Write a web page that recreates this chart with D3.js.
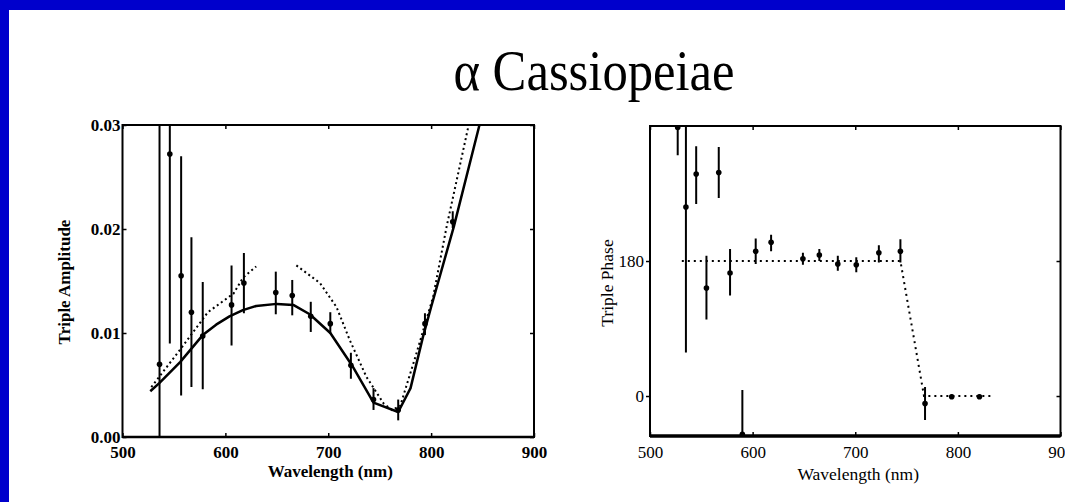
<!DOCTYPE html>
<html><head><meta charset="utf-8">
<script src="https://cdn.jsdelivr.net/npm/d3@7"></script>
<style>body{margin:0;background:#fff}svg{display:block}</style>
</head><body>
<svg id="c" width="1065" height="502"></svg>
<script>
// ---------- data ----------
const titleText = "α Cassiopeiae";
const xTicks = [500, 600, 700, 800, 900];
const ampTicks = [0, 0.01, 0.02, 0.03];
const ampTickLabels = ["0.00", "0.01", "0.02", "0.03"];
const phaseTicks = [0, 180];

// Left panel: triple amplitude measurements
const ampWave  = [536, 546, 557, 567, 578, 606, 618, 649, 665, 683, 702, 722, 744, 768, 794, 821];
const ampValue = [0.0070, 0.0272, 0.0155, 0.0120, 0.0097, 0.0127, 0.0148, 0.0139, 0.0136, 0.0116, 0.0109, 0.0069, 0.0036, 0.0026, 0.0109, 0.0207];
const ampLow   = [0.0000, 0.0090, 0.0040, 0.0048, 0.0046, 0.0088, 0.0119, 0.0118, 0.0117, 0.0101, 0.0099, 0.0056, 0.0026, 0.0016, 0.0098, 0.0201];
const ampHigh  = [0.0310, 0.0310, 0.0270, 0.0192, 0.0149, 0.0165, 0.0177, 0.0159, 0.0151, 0.0130, 0.0120, 0.0081, 0.0047, 0.0036, 0.0119, 0.0217];

// Left panel: solid model curve
const modelWave = [527, 536, 556, 578, 591, 604, 617, 630, 650, 666, 682, 702, 723, 744, 768, 780, 792, 800, 822, 847];
const modelAmp  = [0.0044, 0.0052, 0.0072, 0.0098, 0.0108, 0.0116, 0.0122, 0.0126, 0.0128, 0.0127, 0.0118, 0.0100, 0.0069, 0.0033, 0.0024, 0.0047, 0.0096, 0.0125, 0.0202, 0.0300];

// Left panel: dotted model curve (null = gap)
const dotWave = [528, 556, 583, 608, 617, 630, 650, 669, 692, 708, 721, 737, 754, 762, 770, 785, 802, 815, 836.5];
const dotAmp  = [0.0048, 0.0084, 0.0120, 0.0138, 0.0153, 0.0164, null, 0.0165, 0.0148, 0.0125, 0.0093, 0.0058, 0.0032, 0.0026, 0.0030, 0.0078, 0.0135, 0.0202, 0.0300];

// Right panel: triple phase measurements (degrees)
const phaseWave  = [527, 535, 545, 555, 567, 578, 590, 603, 618, 649, 665, 683, 701, 723, 744, 768, 794, 821];
const phaseValue = [358, 252, 296, 144, 298, 164, -51, 193, 205, 183, 188, 176, 175, 191, 193, -10, -1, -1];
const phaseLow   = [321, 58, 256, 102, 264, 134, -56, 176, 193, 175, 180, 167, 165, 178, 178, -32, -4, -4];
const phaseHigh  = [370, 370, 333, 187, 332, 196, 8, 210, 215, 191, 196, 187, 185, 201, 209, 12, 2, 2];

// Right panel: dotted model
const phaseModelWave  = [531, 744, 767, 835];
const phaseModelValue = [180, 180, 0, 0];

// ---------- drawing ----------
const svg = d3.select("#c");
svg.append("rect").attr("width", 1065).attr("height", 502).attr("fill", "#0000cc");
svg.append("rect").attr("x", 9).attr("y", 10).attr("width", 1056).attr("height", 492).attr("fill", "#fff");

const serif = "'Liberation Serif','Times New Roman',serif";

// title
svg.append("text")
  .attr("transform", "translate(594,90) scale(0.905,1)")
  .attr("text-anchor", "middle")
  .attr("font-family", serif).attr("font-size", 56)
  .attr("fill", "#000")
  .text(titleText);

function panel(opts) {
  const {x, y, id} = opts;
  const [x0, x1] = x.range();
  const [y0, y1] = y.range(); // y0 bottom, y1 top
  const g = svg.append("g");
  g.append("clipPath").attr("id", id).append("rect")
    .attr("x", x0).attr("y", y1).attr("width", x1 - x0).attr("height", y0 - y1);

  const bottom = g.append("g").attr("transform", `translate(0,${y0})`)
    .call(d3.axisBottom(x).tickValues(xTicks).tickSize(-4).tickPadding(opts.xPad).tickFormat(d3.format("d")));
  const top = g.append("g").attr("transform", `translate(0,${y1})`)
    .call(d3.axisTop(x).tickValues(xTicks).tickSize(-4).tickFormat(""));
  const left = g.append("g").attr("transform", `translate(${x0},0)`)
    .call(d3.axisLeft(y).tickValues(opts.yTicks).tickSize(opts.yTickSize).tickPadding(2).tickFormat(opts.yFormat));
  const right = g.append("g").attr("transform", `translate(${x1},0)`)
    .call(d3.axisRight(y).tickValues(opts.yTicks).tickSize(-4).tickFormat(""));
  [bottom, top, left, right].forEach(a => {
    a.select(".domain").remove();
    a.selectAll("line").attr("stroke", "#000").attr("stroke-width", 1.5);
    a.selectAll("text").attr("font-family", serif).attr("font-size", 17)
      .attr("font-weight", opts.bold ? "bold" : "normal").attr("fill", "#000");
  });

  g.append("rect").attr("x", x0).attr("y", y1).attr("width", x1 - x0).attr("height", y0 - y1)
    .attr("fill", "none").attr("stroke", "#000").attr("stroke-width", 2);
  g.append("line").attr("x1", x0).attr("x2", x1).attr("y1", y0).attr("y2", y0)
    .attr("stroke", "#000").attr("stroke-width", opts.bottomWidth);

  g.append("text").attr("x", (x0 + x1) / 2 + opts.xtDx).attr("y", opts.xtY)
    .attr("text-anchor", "middle").attr("font-family", serif).attr("font-size", opts.titleSize)
    .attr("font-weight", opts.bold ? "bold" : "normal").text("Wavelength (nm)");
  g.append("text").attr("transform", `translate(${opts.ytX},${opts.ytY}) rotate(-90)`)
    .attr("text-anchor", "middle").attr("font-family", serif).attr("font-size", opts.titleSize)
    .attr("font-weight", opts.bold ? "bold" : "normal").text(opts.yTitle);

  return g.append("g").attr("clip-path", `url(#${id})`);
}

// Left panel
const xL = d3.scaleLinear([500, 900], [122.5, 534]);
const yL = d3.scaleLinear([0, 0.03], [437, 125]);
const pL = panel({x: xL, y: yL, id: "clipL", xPad: 9, yTicks: ampTicks, yTickSize: -4,
  yFormat: (d, i) => ampTickLabels[i], bold: true, bottomWidth: 2.5,
  xtDx: 2, xtY: 477, ytX: 70, ytY: 282, titleSize: 17, yTitle: "Triple Amplitude"});

pL.append("path")
  .attr("d", d3.line().defined(d => d[1] !== null).x(d => xL(d[0])).y(d => yL(d[1]))(dotWave.map((w, i) => [w, dotAmp[i]])))
  .attr("fill", "none").attr("stroke", "#000").attr("stroke-width", 2).attr("stroke-dasharray", "2,3");
pL.append("path")
  .attr("d", d3.line().x(d => xL(d[0])).y(d => yL(d[1]))(modelWave.map((w, i) => [w, modelAmp[i]])))
  .attr("fill", "none").attr("stroke", "#000").attr("stroke-width", 2.5).attr("stroke-linejoin", "round");
ampWave.forEach((w, i) => {
  pL.append("line").attr("x1", xL(w)).attr("x2", xL(w)).attr("y1", yL(ampLow[i])).attr("y2", yL(ampHigh[i]))
    .attr("stroke", "#000").attr("stroke-width", 2);
  pL.append("circle").attr("cx", xL(w)).attr("cy", yL(ampValue[i])).attr("r", 2.8).attr("fill", "#000");
});

// Right panel
const xR = d3.scaleLinear([500, 900], [650, 1060.5]);
const yR = d3.scaleLinear([-53.3, 360], [436, 126]);
const pR = panel({x: xR, y: yR, id: "clipR", xPad: 10, yTicks: phaseTicks, yTickSize: 4,
  yFormat: d3.format("d"), bold: false, bottomWidth: 3.5,
  xtDx: 3, xtY: 480, ytX: 613, ytY: 283, titleSize: 17.5, yTitle: "Triple Phase"});

pR.append("path")
  .attr("d", d3.line().x(d => xR(d[0])).y(d => yR(d[1]))(phaseModelWave.map((w, i) => [w, phaseModelValue[i]])))
  .attr("fill", "none").attr("stroke", "#000").attr("stroke-width", 2).attr("stroke-dasharray", "2,4");
phaseWave.forEach((w, i) => {
  pR.append("line").attr("x1", xR(w)).attr("x2", xR(w)).attr("y1", yR(phaseLow[i])).attr("y2", yR(phaseHigh[i]))
    .attr("stroke", "#000").attr("stroke-width", 2);
  pR.append("circle").attr("cx", xR(w)).attr("cy", yR(phaseValue[i])).attr("r", 2.8).attr("fill", "#000");
});
</script>
</body></html>
